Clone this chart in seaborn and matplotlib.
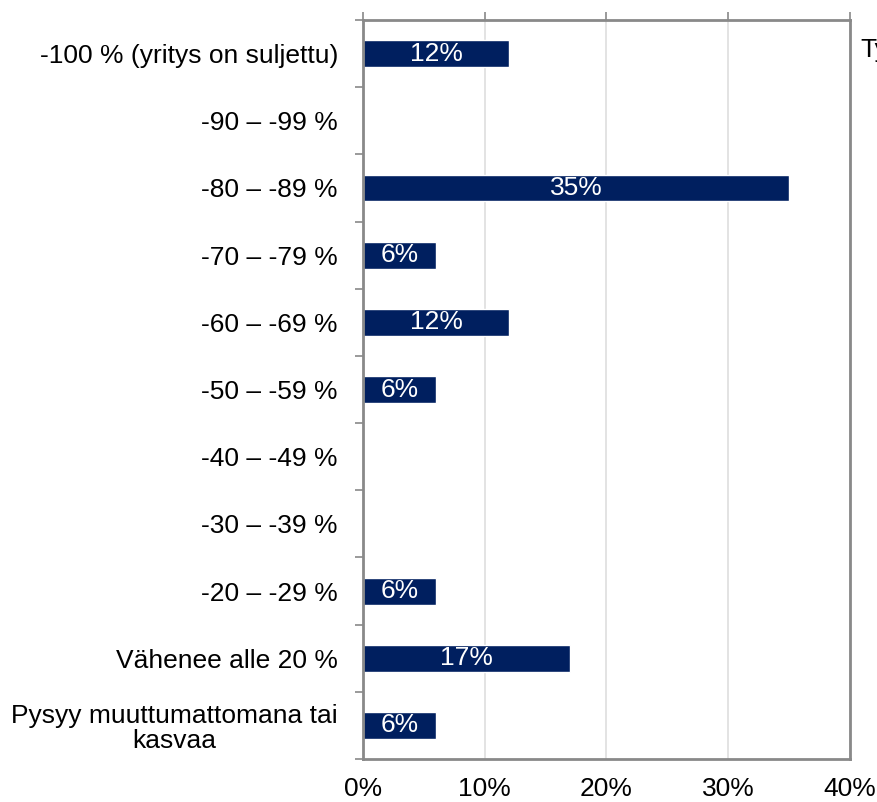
import matplotlib
matplotlib.use('Agg')
import matplotlib.pyplot as plt
import seaborn as sns
import numpy as np
import pandas as pd

categories = ['-100 % (yritys on suljettu)', '-90 – -99 %', '-80 – -89 %', '-70 – -79 %',
              '-60 – -69 %', '-50 – -59 %', '-40 – -49 %', '-30 – -39 %', '-20 – -29 %',
              'Vähenee alle 20 %', 'Pysyy muuttumattomana tai\nkasvaa']
values = [12, 0, 35, 6, 12, 6, 0, 0, 6, 17, 6]
xticks = [0, 10, 20, 30, 40]

sns.set_style('white')
plt.rcParams['font.family'] = ['Liberation Sans', 'DejaVu Sans']
plt.rcParams['text.color'] = 'black'
plt.rcParams['xtick.labelcolor'] = 'black'
plt.rcParams['ytick.labelcolor'] = 'black'

df = pd.DataFrame({'cat': categories, 'val': values})
fig = plt.figure(figsize=(8.78, 8.02), dpi=100)
ax = fig.add_axes([0.4134, 0.0536, 0.9681 - 0.4134, 0.975 - 0.0536])
sns.barplot(data=df, y='cat', x='val', order=categories, color='#001f5f',
            width=0.4, ax=ax, orient='h', saturation=1)

fs = 19
ax.set_xlim(0, 40)
ax.set_ylim(len(categories) - 0.5, -0.5)
ax.set_xlabel('')
ax.set_ylabel('')
ax.set_xticks(xticks)
ax.set_xticklabels([f'{t}%' for t in xticks], fontsize=fs)
ax.xaxis.grid(True, color='#e0e0e0', linewidth=1.3)
ax.set_axisbelow(True)
ax.tick_params(axis='x', bottom=False, top=True, length=6, width=1.2,
               color='#898989', pad=7, labelbottom=True, labeltop=False)

ax.set_yticks(range(len(categories)))
ax.set_yticklabels(categories, fontsize=fs, multialignment='center', linespacing=1.05)
ax.set_yticks(np.arange(-0.5, len(categories), 1), minor=True)
ax.tick_params(axis='y', which='major', length=0, pad=18, left=True)
ax.tick_params(axis='y', which='minor', length=6, width=1.2, color='#898989', left=True)

for s in ax.spines.values():
    s.set_color('#898989')
    s.set_linewidth(2)

for i, v in enumerate(values):
    if v > 0:
        ax.text(v / 2, i, f'{v}%', color='white', ha='center', va='center', fontsize=fs)

fig.text(860 / 878, 1 - 50 / 802, 'Ty', fontsize=fs, va='center', ha='left')

fig.savefig('out.png', dpi=100)
